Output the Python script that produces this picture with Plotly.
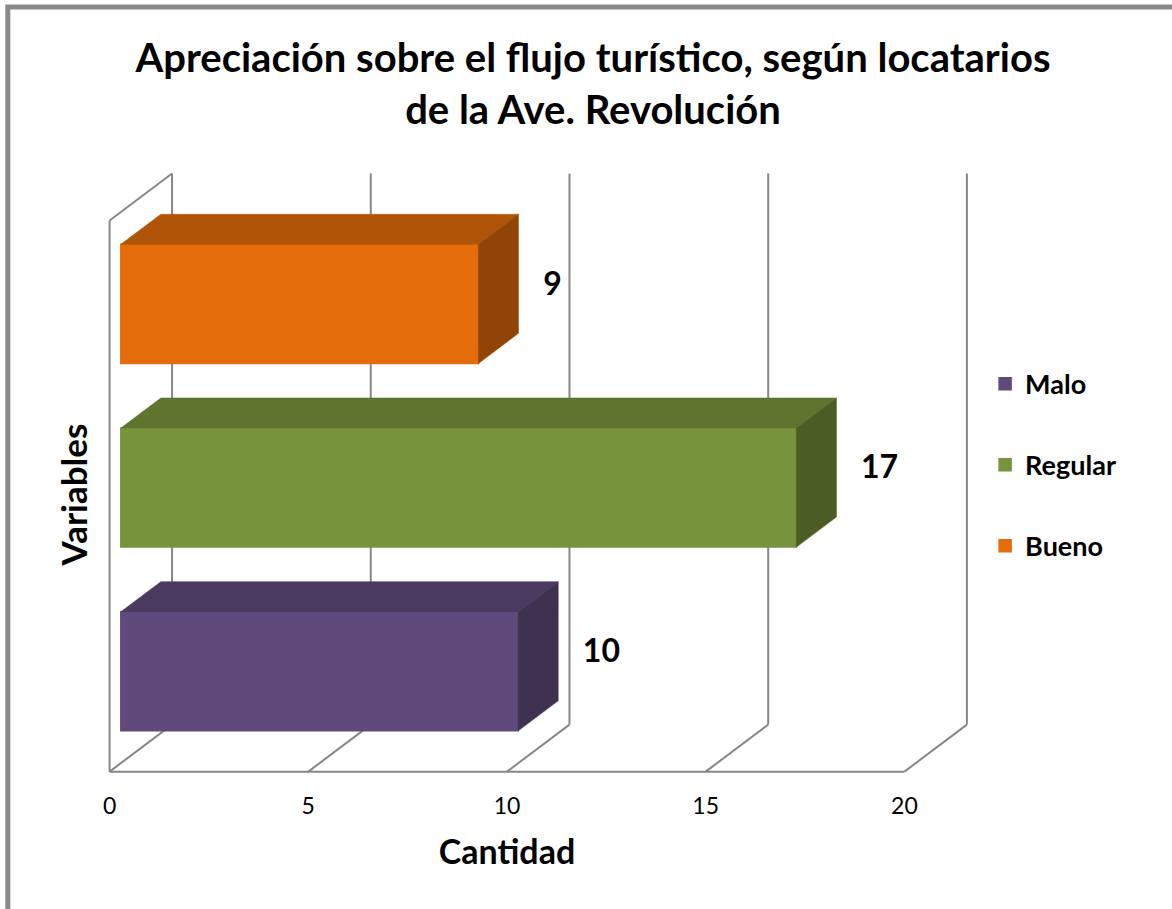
import plotly.graph_objects as go

# ---------------- data ----------------
categories = ["Malo", "Regular", "Bueno"]
values = [10, 17, 9]
tick_values = [0, 5, 10, 15, 20]
tick_labels = ["0", "5", "10", "15", "20"]

front_colors = ["#604A7B", "#77933C", "#E46C0A"]
top_colors = ["#4A3A5F", "#5E742F", "#B05408"]
side_colors = ["#3F3150", "#4B5D25", "#904507"]

title_text = "Apreciación sobre el flujo turístico, según locatarios<br>de la Ave. Revolución"
x_title = "Cantidad"
y_title = "Variables"

# ---------------- pseudo-3D geometry (in axis units) ----------------
DX = 1.572      # depth offset along value axis
DY = 0.256      # depth offset along category axis
T1, T2 = 0.18, 0.82   # front / back depth of the bars
H = 0.324       # half bar thickness
N = len(categories)

FONT = "Lato"
GRID = "#878787"

fig = go.Figure()

# walls / floor / gridlines as shapes below the traces
shapes = []
def seg(x0, y0, x1, y1):
    shapes.append(dict(type="line", xref="x", yref="y", x0=x0, y0=y0, x1=x1, y1=y1,
                       line=dict(color=GRID, width=2), layer="below"))

for t in tick_values:
    seg(t + DX, DY, t + DX, N + DY)        # back wall gridline
    seg(t, 0, t + DX, DY)                  # floor diagonal
seg(0, 0, 0, N)                            # left wall front edge
seg(0, N, DX, N + DY)                      # left wall top edge
seg(tick_values[0], 0, tick_values[-1], 0) # floor front edge

# bars: front face (bar trace), top and side faces (filled polygons)
for i, (cat, v) in enumerate(zip(categories, values)):
    c = i + 0.5
    fig.add_trace(go.Bar(
        orientation="h", y=[c + T1 * DY], x=[v], base=[T1 * DX], width=[2 * H],
        name=cat, legendgroup=cat,
        marker=dict(color=front_colors[i], line=dict(color=front_colors[i], width=1.5)),
        hovertemplate=cat + ": %{x}<extra></extra>",
    ))
for i, (cat, v) in enumerate(zip(categories, values)):
    c = i + 0.5
    # top face
    fig.add_trace(go.Scatter(
        x=[T1 * DX, v + T1 * DX, v + T2 * DX, T2 * DX, T1 * DX],
        y=[c + H + T1 * DY, c + H + T1 * DY, c + H + T2 * DY, c + H + T2 * DY, c + H + T1 * DY],
        mode="lines", fill="toself", fillcolor=top_colors[i],
        line=dict(color=top_colors[i], width=0.5), showlegend=False, hoverinfo="skip",
        legendgroup=cat,
    ))
    # right face
    fig.add_trace(go.Scatter(
        x=[v + T1 * DX, v + T1 * DX, v + T2 * DX, v + T2 * DX, v + T1 * DX],
        y=[c - H + T1 * DY, c + H + T1 * DY, c + H + T2 * DY, c - H + T2 * DY, c - H + T1 * DY],
        mode="lines", fill="toself", fillcolor=side_colors[i],
        line=dict(color=side_colors[i], width=0.5), showlegend=False, hoverinfo="skip",
        legendgroup=cat,
    ))

# data labels
fig.add_trace(go.Scatter(
    x=[v + T2 * DX + 0.62 for v in values],
    y=[i + 0.5 + 0.14 for i in range(N)],
    mode="text", text=[str(v) for v in values], textposition="middle right",
    textfont=dict(family=FONT, size=32, color="#000000", weight=700),
    showlegend=False, hoverinfo="skip", cliponaxis=False,
))

# ---------------- layout ----------------
PX = 39.75     # px per value unit
PY = 183.7     # px per category unit
XR = [-1.65, 21.65]
YR = [-0.1, 3.4]
L = 109.3 + XR[0] * PX
W = (XR[1] - XR[0]) * PX
B_px = 772 - YR[0] * PY
T_px = 772 - YR[1] * PY
Hgt = B_px - T_px

def px_to_paper_x(p):
    return (p - L) / W

def px_to_paper_y(p):
    return (B_px - p) / Hgt

# outer chart border (left and top visible)
shapes.append(dict(type="rect", xref="paper", yref="paper",
                   x0=px_to_paper_x(7.5), x1=px_to_paper_x(1250),
                   y0=px_to_paper_y(1000), y1=px_to_paper_y(7.5),
                   line=dict(color="#898989", width=5), fillcolor="rgba(0,0,0,0)", layer="below"))

fig.update_layout(
    width=1172, height=909,
    margin=dict(l=L, r=1172 - (L + W), t=T_px, b=909 - B_px, autoexpand=False),
    paper_bgcolor="white", plot_bgcolor="white",
    barmode="overlay",
    shapes=shapes,
    title=dict(text=title_text, x=593 / 1172, xanchor="center", xref="container",
               y=1 - 72 / 909, yanchor="top", yref="container",
               font=dict(family=FONT, size=40, color="#000000", weight=700)),
    xaxis=dict(range=XR, tickvals=tick_values, ticktext=tick_labels,
               showgrid=False, zeroline=False, showline=False, ticks="",
               tickfont=dict(family=FONT, size=23, color="#000000"),
               title=dict(text=x_title, standoff=22,
                          font=dict(family=FONT, size=34, color="#000000", weight=700)),
               fixedrange=True),
    yaxis=dict(range=YR, showgrid=False, zeroline=False, showline=False, ticks="",
               showticklabels=False, fixedrange=True),
    legend=dict(x=px_to_paper_x(985), xanchor="left", y=px_to_paper_y(360), yanchor="top",
                traceorder="grouped", tracegroupgap=43,
                font=dict(family=FONT, size=27, color="#000000", weight=700),
                bgcolor="rgba(0,0,0,0)"),
    annotations=[dict(text=y_title, xref="paper", yref="paper",
                      x=px_to_paper_x(73), y=px_to_paper_y(495.5), textangle=-90,
                      showarrow=False, xanchor="center", yanchor="middle",
                      font=dict(family=FONT, size=35, color="#000000", weight=700))],
)

fig.write_html("out.html", config={"displayModeBar": False},
               post_script="document.body.style.margin='0px';")
